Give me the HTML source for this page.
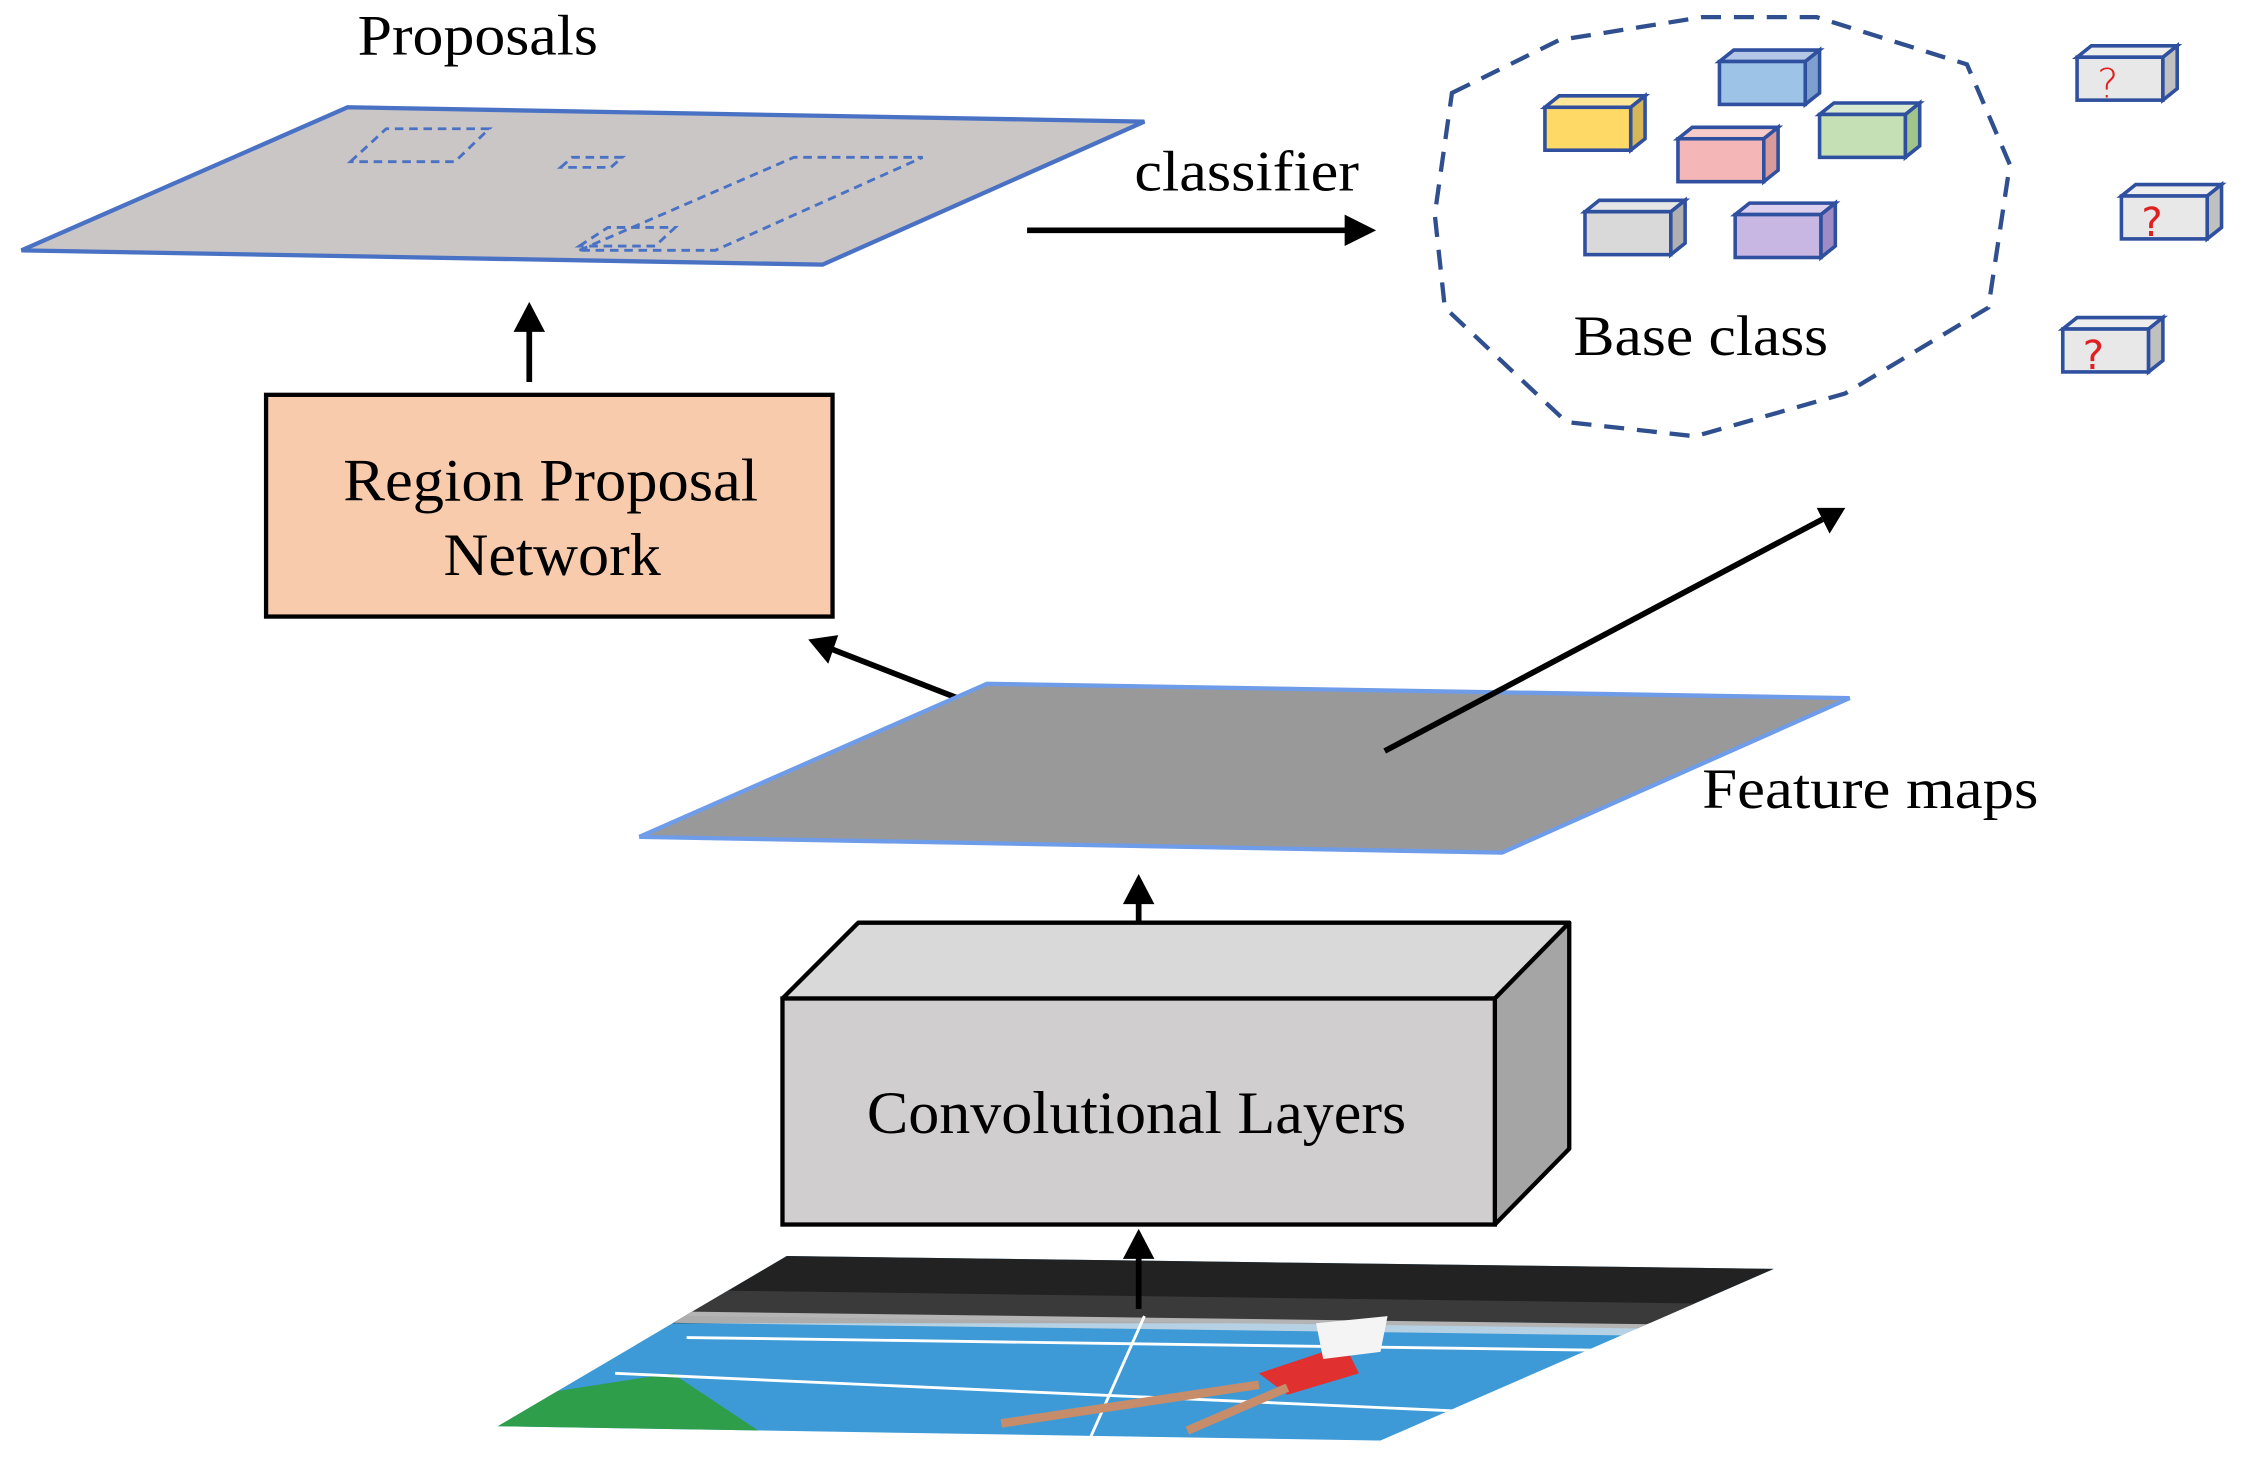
<!DOCTYPE html>
<html><head><meta charset="utf-8"><style>
html,body{margin:0;padding:0;background:#fff;}
svg{display:block;}
text{font-family:"Liberation Serif",serif;fill:#000;}
</style></head><body>
<svg width="2243" height="1457" viewBox="0 0 1568 1018.5" preserveAspectRatio="none" xmlns="http://www.w3.org/2000/svg">
<defs>
<clipPath id="ph"><polygon points="348,997 550,878 1240,887 965,1007"/></clipPath>
</defs>

<text x="250" y="38" font-size="40" textLength="168" lengthAdjust="spacingAndGlyphs">Proposals</text>
<polygon points="15,175 243,75 800,85 575,185" fill="#cbc6c6" stroke="#4a72c4" stroke-width="3"/>
<g fill="none" stroke="#4a72c4" stroke-width="2" stroke-dasharray="6,4">
<polygon points="245,113 270,90 342,90 318,113"/>
<polygon points="392,117 400,110 435,110 427,117"/>
<polygon points="405,175 555,110 645,110 500,175"/>
<polygon points="405,172 425,159 472,159 458,172"/>
</g>

<text x="793" y="133" font-size="40" textLength="157" lengthAdjust="spacingAndGlyphs">classifier</text>
<line x1="718" y1="161" x2="945" y2="161" stroke="#000" stroke-width="4"/>
<polygon points="962,161 940,150 940,172" fill="#000"/>

<polygon points="1015,65 1090,28 1190,12 1270,12 1375,45 1405,115 1390,215 1290,275 1185,305 1095,295 1010,215 1003,150" fill="none" stroke="#2f4f8f" stroke-width="3" stroke-dasharray="14,9"/>

<g stroke="#2f4f9f" stroke-width="2.5">
<polygon points="1080,75 1090,67 1150,67 1140,75" fill="#ffe699"/><rect x="1080" y="75" width="60" height="30" fill="#ffd966"/><polygon points="1140,75 1150,67 1150,97 1140,105" fill="#d6b656"/>
<polygon points="1202,43 1212,35 1272,35 1262,43" fill="#b4c7e7"/><rect x="1202" y="43" width="60" height="30" fill="#9dc3e6"/><polygon points="1262,43 1272,35 1272,65 1262,73" fill="#7f9fcf"/>
<polygon points="1173,97 1183,89 1243,89 1233,97" fill="#f8cbcb"/><rect x="1173" y="97" width="60" height="30" fill="#f4b6b6"/><polygon points="1233,97 1243,89 1243,119 1233,127" fill="#d99a9a"/>
<polygon points="1272,80 1282,72 1342,72 1332,80" fill="#d9ead3"/><rect x="1272" y="80" width="60" height="30" fill="#c5e0b4"/><polygon points="1332,80 1342,72 1342,102 1332,110" fill="#a0c48a"/>
<polygon points="1108,148 1118,140 1178,140 1168,148" fill="#e6e6e6"/><rect x="1108" y="148" width="60" height="30" fill="#d9d9d9"/><polygon points="1168,148 1178,140 1178,170 1168,178" fill="#b0b0b0"/>
<polygon points="1213,150 1223,142 1283,142 1273,150" fill="#ddd0ee"/><rect x="1213" y="150" width="60" height="30" fill="#c9b7e3"/><polygon points="1273,150 1283,142 1283,172 1273,180" fill="#a08cc4"/>
</g>
<text x="1100" y="248" font-size="40" textLength="178" lengthAdjust="spacingAndGlyphs">Base class</text>

<g stroke="#2f4f9f" stroke-width="2.5">
<polygon points="1452,40 1462,32 1522,32 1512,40" fill="#eee"/><rect x="1452" y="40" width="60" height="30" fill="#e8e8e8"/><polygon points="1512,40 1522,32 1522,62 1512,70" fill="#c0c0c0"/>
<polygon points="1483,137 1493,129 1553,129 1543,137" fill="#eee"/><rect x="1483" y="137" width="60" height="30" fill="#e8e8e8"/><polygon points="1543,137 1553,129 1553,159 1543,167" fill="#c0c0c0"/>
<polygon points="1442,230 1452,222 1512,222 1502,230" fill="#eee"/><rect x="1442" y="230" width="60" height="30" fill="#e8e8e8"/><polygon points="1502,230 1512,222 1512,252 1502,260" fill="#c0c0c0"/>
</g>
<g font-size="32">
<text x="1466" y="68" style="fill:#e02020;font-family:'DejaVu Sans',sans-serif;font-weight:200" font-size="28">?</text>
<text x="1497" y="165" style="fill:#e02020;font-family:'DejaVu Sans',sans-serif" font-size="28">?</text>
<text x="1456" y="258" style="fill:#e02020;font-family:'DejaVu Sans',sans-serif" font-size="28">?</text>
</g>

<line x1="370" y1="267" x2="370" y2="228" stroke="#000" stroke-width="4"/>
<polygon points="370,211 359,232 381,232" fill="#000"/>

<rect x="186" y="276" width="396" height="155" fill="#f8cbad" stroke="#000" stroke-width="3"/>
<text x="240" y="350" font-size="42" textLength="290" lengthAdjust="spacingAndGlyphs">Region Proposal</text>
<text x="310" y="402" font-size="42" textLength="152" lengthAdjust="spacingAndGlyphs">Network</text>

<line x1="708" y1="503" x2="582" y2="454" stroke="#000" stroke-width="4"/>
<polygon points="565,447 586,444 579,464" fill="#000"/>

<polygon points="447,585 690,478 1293,488 1050,596" fill="#999" stroke="#6f9ce8" stroke-width="3"/>
<line x1="968" y1="525" x2="1274" y2="363" stroke="#000" stroke-width="4"/>
<polygon points="1290,355 1270,355 1279,373" fill="#000"/>
<text x="1190" y="565" font-size="40" textLength="235" lengthAdjust="spacingAndGlyphs">Feature maps</text>

<line x1="796" y1="672" x2="796" y2="628" stroke="#000" stroke-width="4"/>
<polygon points="796,611 785,632 807,632" fill="#000"/>

<polygon points="547,698 600,645 1097,645 1045,698" fill="#d9d9d9" stroke="#000" stroke-width="3" stroke-linejoin="round"/>
<polygon points="1045,698 1097,645 1097,803 1045,856" fill="#a5a5a5" stroke="#000" stroke-width="3" stroke-linejoin="round"/>
<rect x="547" y="698" width="498" height="158" fill="#d0cece" stroke="#000" stroke-width="3"/>
<text x="606" y="792" font-size="42" textLength="377" lengthAdjust="spacingAndGlyphs">Convolutional Layers</text>

<g clip-path="url(#ph)">
<rect x="340" y="870" width="910" height="150" fill="#3d9ad6"/>
<polygon points="340,870 1250,870 1250,925 340,925" fill="#222"/>
<polygon points="340,900 1250,912 1250,930 340,918" fill="#3a3a3a"/>
<polygon points="340,915 1250,927 1250,935 340,923" fill="#e8e8e8" opacity="0.7"/>
<polygon points="340,980 470,960 560,1020 340,1020" fill="#2e9e4a"/>
<line x1="430" y1="960" x2="1100" y2="990" stroke="#fff" stroke-width="2"/>
<line x1="480" y1="935" x2="1200" y2="945" stroke="#fff" stroke-width="2"/>
<line x1="800" y1="920" x2="760" y2="1010" stroke="#fff" stroke-width="2"/>
<polygon points="880,960 940,940 950,960 900,975" fill="#e03030"/>
<polygon points="920,925 970,920 965,945 925,950" fill="#f4f4f4"/>
<line x1="700" y1="995" x2="880" y2="968" stroke="#c78d6a" stroke-width="6"/>
<line x1="830" y1="1000" x2="900" y2="970" stroke="#c78d6a" stroke-width="6"/>
</g>

<line x1="796" y1="915" x2="796" y2="876" stroke="#000" stroke-width="4"/>
<polygon points="796,859 785,880 807,880" fill="#000"/>
</svg>
</body></html>
